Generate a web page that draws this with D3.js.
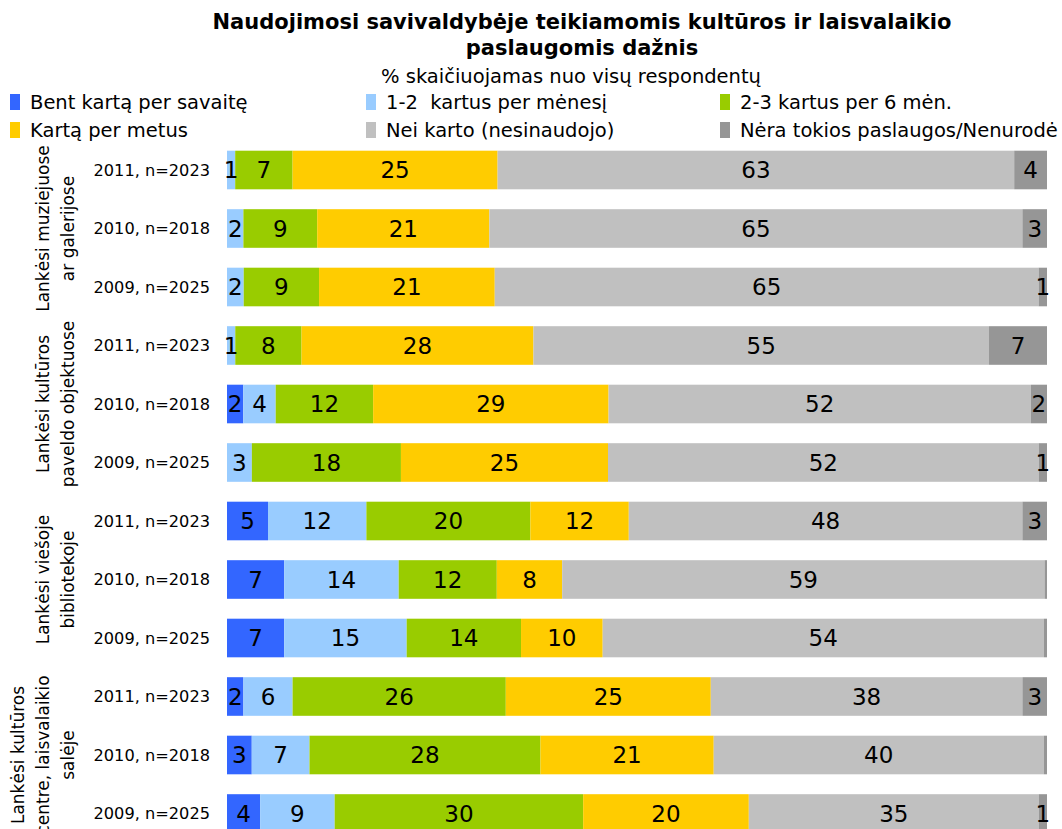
<!DOCTYPE html>
<html>
<head>
<meta charset="utf-8">
<script src="https://cdn.jsdelivr.net/npm/d3@7"></script>
<style>
  body { margin: 0; background: #fff; }
  svg { display: block; }
  text { font-family: "DejaVu Sans", Verdana, sans-serif; fill: #000; }
</style>
</head>
<body>
<svg id="chart" width="1062" height="829"></svg>
<script>
// ---- Data ----
const titleLines = ["Naudojimosi savivaldybėje teikiamomis kultūros ir laisvalaikio", "paslaugomis dažnis"];
const subtitle = "% skaičiuojamas nuo visų respondentų";

const groups = [
  ["Lankėsi muziejuose", "ar galerijose"],
  ["Lankėsi kultūros", "paveldo objektuose"],
  ["Lankėsi viešoje", "bibliotekoje"],
  ["Lankėsi kultūros", "centre, laisvalaikio", "salėje"]
];
const rowLabels = ["2011, n=2023", "2010, n=2018", "2009, n=2025"];

const seriesNames = [
  "Bent kartą per savaitę",
  "1-2  kartus per mėnesį",
  "2-3 kartus per 6 mėn.",
  "Kartą per metus",
  "Nei karto (nesinaudojo)",
  "Nėra tokios paslaugos/Nenurodė"
];
const seriesColors = ["#3366FF", "#99CCFF", "#99CC00", "#FFCC00", "#C0C0C0", "#969696"];

// values per series, rows ordered: group1 (2011, 2010, 2009), group2 ..., group4
const weekly    = [0, 0, 0,   0, 2, 0,   5, 7, 7,    2, 3, 4];
const monthly   = [1, 2, 2,   1, 4, 3,   12, 14, 15, 6, 7, 9];
const sixMonths = [7, 9, 9,   8, 12, 18, 20, 12, 14, 26, 28, 30];
const yearly    = [25, 21, 21, 28, 29, 25, 12, 8, 10, 25, 21, 20];
const never     = [63, 65, 65, 55, 52, 52, 48, 59, 54, 38, 40, 35];
const noService = [4, 3, 1,   7, 2, 1,   3, 0.3, 0.4, 3, 0.4, 1];

const seriesValues = [weekly, monthly, sixMonths, yearly, never, noService];
const keys = seriesNames.map((d, i) => "s" + i);

// build table
const rows = [];
groups.forEach((g, gi) => {
  rowLabels.forEach((lab, li) => {
    const idx = gi * rowLabels.length + li;
    const r = { id: "r" + idx, group: gi, label: lab };
    keys.forEach((k, si) => r[k] = seriesValues[si][idx]);
    rows.push(r);
  });
});

// ---- Drawing ----
const svg = d3.select("#chart");

const x = d3.scaleLinear().domain([0, 1]).range([227, 1047]);
const y = d3.scaleBand()
  .domain(rows.map(d => d.id))
  .range([140.75, 842.75])
  .paddingInner(0.34)
  .paddingOuter(0.17);

const stack = d3.stack().keys(keys).offset(d3.stackOffsetExpand);
const stacked = stack(rows);

// Title
svg.append("g").selectAll("text").data(titleLines).join("text")
  .attr("x", 582)
  .attr("y", (d, i) => 29 + i * 26)
  .attr("text-anchor", "middle")
  .style("font-weight", "bold")
  .style("font-size", "21px")
  .text(d => d);

svg.append("text")
  .attr("x", 571)
  .attr("y", 83)
  .attr("text-anchor", "middle")
  .style("font-size", "19.5px")
  .text(subtitle);

// Legend
const legendCols = [10, 366, 720];
const legendRows = [102, 130];
const legend = svg.append("g");
seriesNames.forEach((name, i) => {
  const cx = legendCols[i % 3];
  const cy = legendRows[Math.floor(i / 3)];
  legend.append("rect")
    .attr("x", cx).attr("y", cy - 8).attr("width", 10).attr("height", 16)
    .attr("fill", seriesColors[i]);
  legend.append("text")
    .attr("x", cx + 20).attr("y", cy)
    .attr("dy", "0.35em")
    .style("font-size", "19.5px")
    .style("white-space", "pre")
    .text(name);
});

// Bars
const layers = svg.append("g").selectAll("g").data(stacked).join("g")
  .attr("fill", (d, i) => seriesColors[i]);

layers.selectAll("rect").data(d => d.map(s => ({ s, row: s.data }))).join("rect")
  .attr("x", d => x(d.s[0]))
  .attr("y", d => y(d.row.id))
  .attr("width", d => Math.max(0, x(d.s[1]) - x(d.s[0])))
  .attr("height", y.bandwidth());

// Value labels
const labelG = svg.append("g");
stacked.forEach((layer, si) => {
  layer.forEach(s => {
    const v = s.data[keys[si]];
    if (v < 0.5) return;
    labelG.append("text")
      .attr("x", (x(s[0]) + x(s[1])) / 2)
      .attr("y", y(s.data.id) + y.bandwidth() / 2)
      .attr("dy", "0.36em")
      .attr("text-anchor", "middle")
      .style("font-size", "23px")
      .text(Math.round(v));
  });
});

// Row labels
svg.append("g").selectAll("text").data(rows).join("text")
  .attr("x", 210)
  .attr("y", d => y(d.id) + y.bandwidth() / 2)
  .attr("dy", "0.36em")
  .attr("text-anchor", "end")
  .style("font-size", "16.2px")
  .text(d => d.label);

// Group labels (rotated)
const groupG = svg.append("g");
groups.forEach((lines, gi) => {
  const gRows = rows.filter(r => r.group === gi);
  const cy = d3.mean(gRows, r => y(r.id) + y.bandwidth() / 2);
  lines.forEach((line, li) => {
    const cx = 68 - (lines.length - 1 - li) * 25;
    groupG.append("text")
      .attr("transform", `translate(${cx},${cy}) rotate(-90)`)
      .attr("dy", "0.36em")
      .attr("text-anchor", "middle")
      .style("font-size", "17px")
      .text(line);
  });
});
</script>
</body>
</html>
